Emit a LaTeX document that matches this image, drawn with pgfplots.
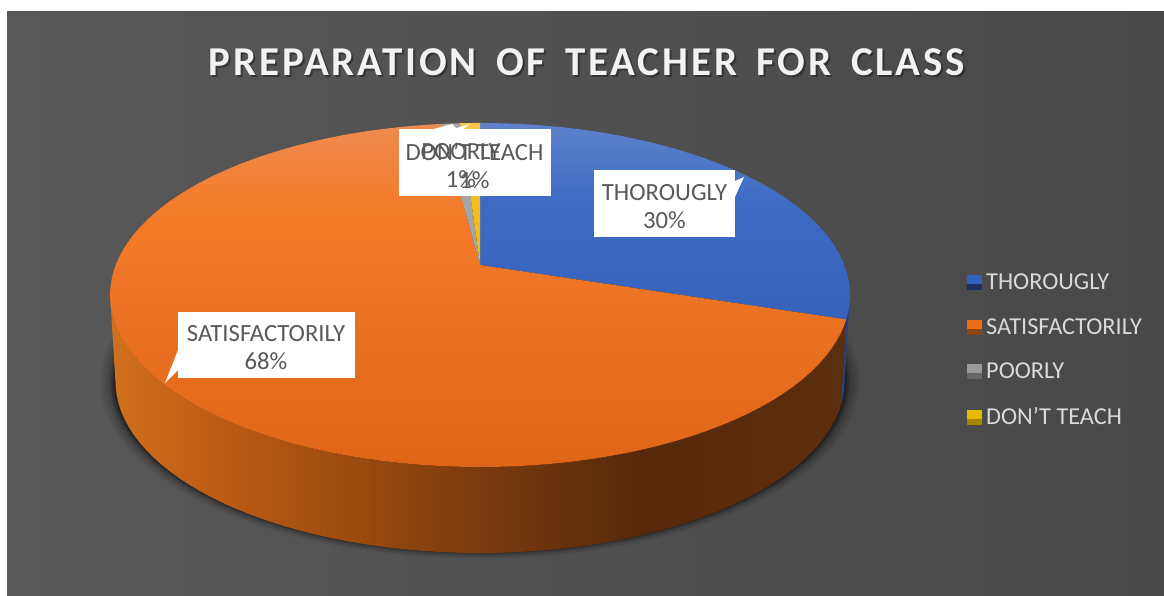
\documentclass[border=0pt]{standalone}
\usepackage{fontspec}
\setmainfont{Carlito}
\newfontfamily\titlefont{Carlito}[LetterSpace=7.0,WordSpace=1.6]
\usepackage{pgfplots}
\usepackage{pgfplotstable}
\pgfplotsset{compat=1.18}
\definecolor{bgL}{HTML}{585858}
\definecolor{bgR}{HTML}{484848}
\definecolor{lbl}{HTML}{595959}
\definecolor{legtxt}{HTML}{D9D9D9}
\pgfdeclareverticalshading{ortop}{100bp}{rgb(0bp)=(0.875,0.395,0.095);rgb(25bp)=(0.875,0.395,0.095);rgb(63bp)=(0.955,0.485,0.165);rgb(75bp)=(0.935,0.545,0.315);rgb(100bp)=(0.935,0.545,0.315)}
\pgfdeclareverticalshading{bltop}{100bp}{rgb(0bp)=(0.21,0.385,0.73);rgb(25bp)=(0.21,0.385,0.73);rgb(55bp)=(0.24,0.42,0.77);rgb(75bp)=(0.37,0.51,0.80);rgb(100bp)=(0.37,0.51,0.80)}
\pgfdeclarehorizontalshading{orrim}{100bp}{rgb(0bp)=(0.82,0.44,0.12);rgb(25bp)=(0.82,0.44,0.12);rgb(31bp)=(0.76,0.37,0.08);rgb(38bp)=(0.66,0.32,0.06);rgb(50bp)=(0.48,0.23,0.05);rgb(61bp)=(0.34,0.16,0.04);rgb(75bp)=(0.36,0.18,0.05);rgb(100bp)=(0.36,0.18,0.05)}

% pie shares in percent, clockwise from 12 o'clock
\pgfplotstableread{
value
30
68
1
1
}\piedata

% append points of the tilted rim from angle #1 to #2
\newcommand\addarc[5]{%
  \pgfmathtruncatemacro\nn{max(2,ceil(abs(#2-(#1))/2.5))}%
  \foreach \i in {0,...,\nn}{%
    \pgfmathsetmacro\pa{#1+(#2-(#1))/\nn*\i}%
    \pgfmathsetmacro\pd{1+0.1744*sin(\pa)}%
    \pgfmathsetmacro\px{480+(#3)*cos(\pa)/\pd}%
    \pgfmathsetmacro\py{(#5)-(#4)*sin(\pa)/\pd}%
    \xdef\pts{\pts (\px,\py)}%
  }%
}
\newcommand\pieslice[3]{% from, to, plot style
  \gdef\pts{(480,265)}\addarc{#1}{#2}{364.3}{166.8}{265}%
  \edef\tmp{\noexpand\addplot[forget plot,draw=none,#3] coordinates {\pts};}\tmp
}
\newcommand\pierim[3]{%
  \gdef\pts{}\addarc{#1}{#2}{364.3}{166.8}{265}\addarc{#2}{#1}{359}{166.8}{351}%
  \edef\tmp{\noexpand\addplot[forget plot,draw=none,#3] coordinates {\pts};}\tmp
}
\newcommand\pieshadow[3]{% grow, yshift, opacity
  \gdef\pts{}\addarc{0}{360}{360+#1}{166+#1*0.4}{351+#2}%
  \edef\tmp{\noexpand\addplot[forget plot,draw=none,fill=black,fill opacity=#3] coordinates {\pts};}\tmp
}
\pgfplotsset{
  swatch/.style n args={2}{legend image code/.code={
    \fill[#1] (0pt,-7pt) rectangle (14pt,7pt);
    \fill[#2] (0pt,-7pt) rectangle (14pt,-2pt);
    \path[draw=none] (0pt,0pt) -- (17pt,0pt);
  }},
}
\definecolor{legA}{HTML}{2F62BE}\definecolor{legAd}{HTML}{1A2F60}
\definecolor{legB}{HTML}{EC6C17}\definecolor{legBd}{HTML}{8A4513}
\definecolor{legC}{HTML}{999999}\definecolor{legCd}{HTML}{666666}
\definecolor{legD}{HTML}{E8B800}\definecolor{legDd}{HTML}{A88700}

\begin{document}
\begin{tikzpicture}
\pgfplotstablegetelem{0}{value}\of\piedata\let\vA\pgfplotsretval
\pgfplotstablegetelem{1}{value}\of\piedata\let\vB\pgfplotsretval
\pgfplotstablegetelem{2}{value}\of\piedata\let\vC\pgfplotsretval
\pgfplotstablegetelem{3}{value}\of\piedata\let\vD\pgfplotsretval
\pgfmathsetmacro\angA{90-3.6*\vA}
\pgfmathsetmacro\angB{\angA-3.6*\vB}
\pgfmathsetmacro\angC{\angB-3.6*\vC}
\pgfmathsetmacro\angD{\angC-3.6*\vD}
\begin{axis}[
  scale only axis,
  width=1164pt, height=596pt,
  xmin=0, xmax=1164, ymin=0, ymax=596,
  y dir=reverse,
  hide axis,
  clip=false,
  legend style={
    at={(axis cs:967,272)}, anchor=north west,
    draw=none, fill=none,
    text=legtxt, font=\fontsize{24.3}{27}\selectfont,
    row sep=23.2pt, inner sep=0pt, outer sep=0pt,
  },
  legend cell align=left,
]
\fill[white] (axis cs:0,0) rectangle (axis cs:1164,596);
\fill[left color=bgL,right color=bgR] (axis cs:7,12) rectangle (axis cs:1164,596);

\pieshadow{14}{0}{0.05}
\pieshadow{11}{0}{0.07}
\pieshadow{8}{0}{0.09}
\pieshadow{5}{0}{0.12}
\pieshadow{3}{0}{0.18}
\pieshadow{1}{0}{0.25}

\pierim{\angA}{-10}{fill={rgb,255:red,38;green,66;blue,125}}
\pierim{-170}{\angA}{shade,shading=orrim}

\pieslice{90}{\angA}{shade,shading=bltop}
\pieslice{\angA}{\angB}{shade,shading=ortop}
\pieslice{\angB}{\angC}{fill={rgb,255:red,165;green,165;blue,165}}
\pieslice{\angC}{\angD}{top color={rgb,255:red,255;green,197;blue,70},bottom color={rgb,255:red,240;green,184;blue,0}}

% data label boxes with their callout tips
\fill[white] (axis cs:594,170) rectangle (axis cs:735,237);
\fill[white] (axis cs:735,197) -- (axis cs:744,177) -- (axis cs:735,181) -- cycle;
\fill[white] (axis cs:178,312) rectangle (axis cs:355,378);
\fill[white] (axis cs:178,350) -- (axis cs:165,383) -- (axis cs:178,370) -- cycle;
\fill[white] (axis cs:399,129) rectangle (axis cs:551,196);
\fill[white] (axis cs:430,130) -- (axis cs:452,124) -- (axis cs:458,130) -- cycle;
\fill[white] (axis cs:450,130) -- (axis cs:470,124) -- (axis cs:462,130) -- cycle;

\tikzset{lab/.style={text=lbl,align=center,inner sep=0pt,font=\fontsize{24.7}{28}\selectfont}}
\node[lab] at (axis cs:664.5,207) {THOROUGLY\\30\%};
\node[lab] at (axis cs:266,348) {SATISFACTORILY\\68\%};
\node[lab] at (axis cs:461,166) {POORLY\\1\%};
\node[lab] at (axis cs:474.5,166) {DON’T TEACH\\1\%};

% title with its soft shadow
\node[text=black,opacity=0.35,font=\titlefont\bfseries\fontsize{41}{44}\selectfont] at (axis cs:589,64) {PREPARATION OF TEACHER FOR CLASS};
\node[text=white!95!black,font=\titlefont\bfseries\fontsize{41}{44}\selectfont] at (axis cs:587,62) {PREPARATION OF TEACHER FOR CLASS};

\addlegendimage{swatch={legA}{legAd}}
\addlegendentry{THOROUGLY}
\addlegendimage{swatch={legB}{legBd}}
\addlegendentry{SATISFACTORILY}
\addlegendimage{swatch={legC}{legCd}}
\addlegendentry{POORLY}
\addlegendimage{swatch={legD}{legDd}}
\addlegendentry{DON’T TEACH}
\end{axis}
\end{tikzpicture}
\end{document}
